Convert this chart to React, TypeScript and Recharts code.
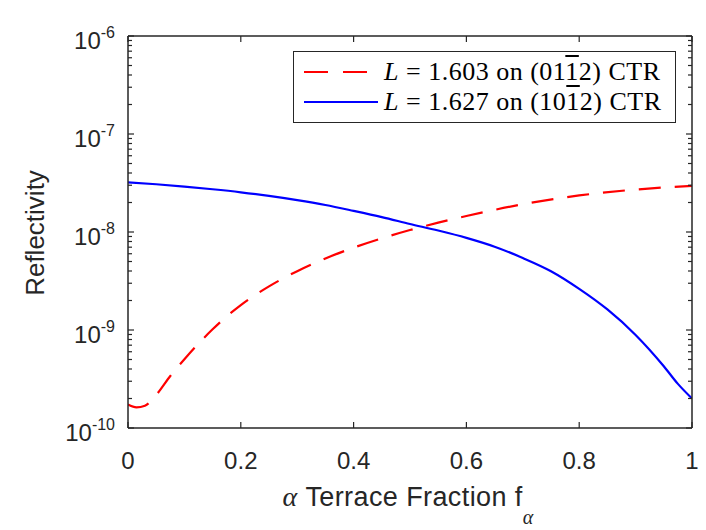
import React from 'react'
import { LineChart, Line, XAxis, YAxis, Legend } from 'recharts'

// red dashed curve, L = 1.603 on (01-12) CTR
const fracRed = [0, 0.015, 0.03, 0.05, 0.075, 0.1, 0.125, 0.15, 0.175, 0.2, 0.25, 0.3, 0.35, 0.4, 0.45, 0.5, 0.55, 0.6, 0.7, 0.8, 0.9, 1]
const reflRed = [1.738e-10, 1.626e-10, 1.69e-10, 2.173e-10, 3.396e-10, 5.023e-10, 7.26e-10, 1.016e-9, 1.377e-9, 1.799e-9, 2.786e-9, 3.981e-9, 5.37e-9, 6.918e-9, 8.61e-9, 1.047e-8, 1.245e-8, 1.455e-8, 1.919e-8, 2.36e-8, 2.71e-8, 2.958e-8]

// blue solid curve, L = 1.627 on (10-12) CTR
const fracBlue = [0, 0.05, 0.1, 0.15, 0.2, 0.25, 0.3, 0.35, 0.4, 0.45, 0.5, 0.55, 0.6, 0.65, 0.7, 0.75, 0.8, 0.85, 0.9, 0.95, 0.975, 1]
const reflBlue = [3.214e-8, 3.069e-8, 2.904e-8, 2.729e-8, 2.541e-8, 2.333e-8, 2.113e-8, 1.884e-8, 1.641e-8, 1.419e-8, 1.208e-8, 1.035e-8, 8.71e-9, 7.08e-9, 5.43e-9, 3.98e-9, 2.63e-9, 1.62e-9, 8.91e-10, 4.27e-10, 2.82e-10, 2.0e-10]

const xTicks = [0, 0.2, 0.4, 0.6, 0.8, 1]
const yDecades = [-10, -9, -8, -7, -6]
const yMinorMult = [2, 3, 4, 5, 6, 7, 8, 9]

const redData = fracRed.map((f, i) => ({ f, r: reflRed[i] }))
const blueData = fracBlue.map((f, i) => ({ f, r: reflBlue[i] }))

const yTicks: number[] = []
yDecades.forEach((d, i) => {
  yTicks.push(Math.pow(10, d))
  if (i < yDecades.length - 1) yMinorMult.forEach(m => yTicks.push(m * Math.pow(10, d)))
})

const INK = '#262626'
const SANS = '"Liberation Sans", Arial, sans-serif'
const SERIF = '"Liberation Serif", "Times New Roman", serif'

function isMajor(v: number) {
  const l = Math.log10(v)
  return Math.abs(l - Math.round(l)) < 1e-6
}

function LeftTick(props: any) {
  const { x, y, payload } = props
  const major = isMajor(payload.value)
  const exp = Math.round(Math.log10(payload.value))
  return (
    <g>
      <line x1={x} y1={y} x2={x + (major ? 6 : 4)} y2={y} stroke={INK} strokeWidth={1.2} />
      {major && (
        <text x={x - 13} y={y + 13} textAnchor="end" fontFamily={SANS} fontSize={24} fill={INK}>
          <tspan>10</tspan>
          <tspan dy={-11} fontSize={16}>{String(exp)}</tspan>
        </text>
      )}
    </g>
  )
}

function RightTick(props: any) {
  const { x, y, payload } = props
  const major = isMajor(payload.value)
  return <line x1={x} y1={y} x2={x - (major ? 6 : 4)} y2={y} stroke={INK} strokeWidth={1.2} />
}

function BottomTick(props: any) {
  const { x, y, payload } = props
  return (
    <g>
      <line x1={x} y1={y} x2={x} y2={y - 6} stroke={INK} strokeWidth={1.2} />
      <text x={x} y={y + 41} textAnchor="middle" fontFamily={SANS} fontSize={24} fill={INK}>
        {String(payload.value)}
      </text>
    </g>
  )
}

function TopTick(props: any) {
  const { x, y } = props
  return <line x1={x} y1={y} x2={x} y2={y + 6} stroke={INK} strokeWidth={1.2} />
}

function XLabel(props: any) {
  const vb = props.viewBox
  return (
    <text x={vb.x + vb.width / 2 - 2} y={vb.y + 78} textAnchor="middle" fontFamily={SANS} fontSize={27}
      letterSpacing={0.4} fill={INK}>
      <tspan fontFamily={SERIF} fontStyle="italic" fontSize={28}>α</tspan>
      <tspan> Terrace Fraction f</tspan>
      <tspan dy={18} fontFamily={SERIF} fontStyle="italic" fontSize={20}>α</tspan>
    </text>
  )
}

function YLabel(props: any) {
  const vb = props.viewBox
  const cx = vb.x + 44
  const cy = vb.y + vb.height / 2 + 1
  return (
    <text x={cx} y={cy} transform={`rotate(-90 ${cx} ${cy})`} textAnchor="middle" fontFamily={SANS} fontSize={26} fill={INK}>
      Reflectivity
    </text>
  )
}

function Sample({ dashed, color }: { dashed?: boolean, color: string }) {
  return (
    <svg width={76} height={10} style={{ display: 'block' }}>
      <line x1={1} y1={5} x2={dashed ? 66 : 75} y2={5} stroke={color} strokeWidth={2.2}
        strokeDasharray={dashed ? '24 15' : undefined} />
    </svg>
  )
}

function LegendBox() {
  const row: React.CSSProperties = { position: 'absolute', left: 9, display: 'flex', alignItems: 'center', height: 30 }
  const txt: React.CSSProperties = { fontFamily: SERIF, fontSize: 26, letterSpacing: 0.5, color: '#000', marginLeft: 5, whiteSpace: 'nowrap' }
  const bar: React.CSSProperties = { textDecoration: 'overline' }
  return (
    <div style={{ position: 'relative', width: 383, height: 72, boxSizing: 'border-box', border: `1.5px solid ${INK}`, background: '#fff' }}>
      <div style={{ ...row, top: 5 }}>
        <Sample dashed color="#ff0000" />
        <span style={txt}><i>L</i> = 1.603 on (01<span style={bar}>1</span>2) CTR</span>
      </div>
      <div style={{ ...row, top: 35 }}>
        <Sample color="#0000ff" />
        <span style={txt}><i>L</i> = 1.627 on (10<span style={bar}>1</span>2) CTR</span>
      </div>
    </div>
  )
}

export default function App() {
  return (
    <div style={{ width: 706, height: 530, background: '#fff' }}>
      <style>{'body{margin:0}'}</style>
      <LineChart width={706} height={530} margin={{ top: 0, right: 0, bottom: 0, left: 0 }}>
        <XAxis xAxisId="bottom" type="number" dataKey="f" domain={[0, 1]} ticks={xTicks} interval={0}
          height={102} tickSize={0} tickMargin={0} tickLine={false} tick={<BottomTick />}
          axisLine={{ stroke: INK, strokeWidth: 1.5 }} allowDataOverflow label={<XLabel />} />
        <XAxis xAxisId="top" orientation="top" type="number" dataKey="f" domain={[0, 1]} ticks={xTicks} interval={0}
          height={36} tickSize={0} tickMargin={0} tickLine={false} tick={<TopTick />}
          axisLine={{ stroke: INK, strokeWidth: 1.5 }} allowDataOverflow />
        <YAxis yAxisId="left" scale="log" type="number" domain={[1e-10, 1e-6]} ticks={yTicks} interval={0}
          width={128} tickSize={0} tickMargin={0} tickLine={false} tick={<LeftTick />}
          axisLine={{ stroke: INK, strokeWidth: 1.5 }} allowDataOverflow label={<YLabel />} />
        <YAxis yAxisId="right" orientation="right" scale="log" type="number" domain={[1e-10, 1e-6]} ticks={yTicks} interval={0}
          width={14} tickSize={0} tickMargin={0} tickLine={false} tick={<RightTick />}
          axisLine={{ stroke: INK, strokeWidth: 1.5 }} allowDataOverflow />
        <Legend layout="vertical" align="center" verticalAlign="middle" content={<LegendBox />}
          wrapperStyle={{ left: 293, top: 51, width: 383, height: 72 }} />
        <Line xAxisId="bottom" yAxisId="left" data={redData} dataKey="r" type="monotone" stroke="#ff0000"
          strokeWidth={2.2} strokeDasharray="22 14" dot={false} isAnimationActive={false} />
        <Line xAxisId="bottom" yAxisId="left" data={blueData} dataKey="r" type="monotone" stroke="#0000ff"
          strokeWidth={2.2} dot={false} isAnimationActive={false} />
      </LineChart>
    </div>
  )
}
